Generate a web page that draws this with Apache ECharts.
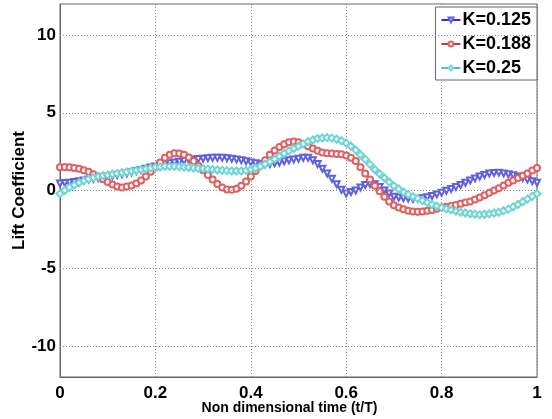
<!DOCTYPE html>
<html>
<head>
<meta charset="utf-8">
<script src="https://cdn.jsdelivr.net/npm/echarts@6/dist/echarts.min.js"></script>
<style>
  html, body { margin: 0; padding: 0; background: #fff; }
  #chart { width: 552px; height: 419px; }
</style>
</head>
<body>
<div id="chart"></div>
<script>
  // time samples t/T (step 0.01)
  const timeValues = [
    0.00, 0.01, 0.02, 0.03, 0.04, 0.05, 0.06, 0.07, 0.08, 0.09,
    0.10, 0.11, 0.12, 0.13, 0.14, 0.15, 0.16, 0.17, 0.18, 0.19,
    0.20, 0.21, 0.22, 0.23, 0.24, 0.25, 0.26, 0.27, 0.28, 0.29,
    0.30, 0.31, 0.32, 0.33, 0.34, 0.35, 0.36, 0.37, 0.38, 0.39,
    0.40, 0.41, 0.42, 0.43, 0.44, 0.45, 0.46, 0.47, 0.48, 0.49,
    0.50, 0.51, 0.52, 0.53, 0.54, 0.55, 0.56, 0.57, 0.58, 0.59,
    0.60, 0.61, 0.62, 0.63, 0.64, 0.65, 0.66, 0.67, 0.68, 0.69,
    0.70, 0.71, 0.72, 0.73, 0.74, 0.75, 0.76, 0.77, 0.78, 0.79,
    0.80, 0.81, 0.82, 0.83, 0.84, 0.85, 0.86, 0.87, 0.88, 0.89,
    0.90, 0.91, 0.92, 0.93, 0.94, 0.95, 0.96, 0.97, 0.98, 0.99, 1.00
  ]
  // K=0.125
  const liftK125 = [
    0.45, 0.48, 0.5, 0.55, 0.6, 0.65, 0.7, 0.75, 0.8, 0.85,
    0.9, 0.95, 1.0, 1.05, 1.1, 1.18, 1.25, 1.32, 1.4, 1.48,
    1.55, 1.62, 1.7, 1.75, 1.8, 1.85, 1.9, 1.95, 2.0, 2.02,
    2.05, 2.08, 2.1, 2.1, 2.1, 2.08, 2.05, 2.0, 1.95, 1.88,
    1.8, 1.75, 1.7, 1.68, 1.7, 1.75, 1.8, 1.88, 1.95, 2.0,
    2.05, 2.1, 2.1, 1.95, 1.7, 1.4, 1.1, 0.75, 0.4, 0.05,
    -0.2, -0.1, 0.0, 0.2, 0.35, 0.42, 0.4, 0.22, 0.0, -0.2,
    -0.4, -0.45, -0.5, -0.52, -0.55, -0.53, -0.5, -0.43, -0.35, -0.25,
    -0.15, -0.02, 0.1, 0.22, 0.35, 0.5, 0.65, 0.78, 0.9, 1.0,
    1.1, 1.13, 1.15, 1.1, 1.05, 0.98, 0.9, 0.8, 0.7, 0.6, 0.5
  ]
  // K=0.188
  const liftK188 = [
    1.5, 1.52, 1.5, 1.45, 1.4, 1.3, 1.2, 1.05, 0.9, 0.72,
    0.55, 0.38, 0.25, 0.2, 0.25, 0.32, 0.45, 0.65, 0.9, 1.2,
    1.5, 1.8, 2.1, 2.3, 2.4, 2.38, 2.3, 2.12, 1.9, 1.6,
    1.3, 1.0, 0.7, 0.42, 0.2, 0.06, 0.05, 0.12, 0.3, 0.58,
    0.9, 1.25, 1.6, 1.95, 2.3, 2.58, 2.8, 2.98, 3.1, 3.15,
    3.1, 3.0, 2.85, 2.7, 2.55, 2.45, 2.4, 2.38, 2.35, 2.33,
    2.25, 2.1, 1.9, 1.5, 1.1, 0.7, 0.3, -0.05, -0.4, -0.7,
    -0.95, -1.1, -1.2, -1.3, -1.35, -1.37, -1.35, -1.3, -1.25, -1.18,
    -1.1, -1.05, -1.0, -0.93, -0.85, -0.78, -0.7, -0.58, -0.45, -0.3,
    -0.15, 0.0, 0.15, 0.32, 0.5, 0.65, 0.8, 0.95, 1.1, 1.28, 1.45
  ]
  // K=0.25
  const liftK25 = [
    -0.2, 0.0, 0.2, 0.35, 0.5, 0.63, 0.75, 0.83, 0.9, 0.95,
    1.0, 1.05, 1.1, 1.15, 1.2, 1.25, 1.3, 1.35, 1.4, 1.45,
    1.5, 1.52, 1.55, 1.55, 1.55, 1.53, 1.5, 1.48, 1.45, 1.42,
    1.4, 1.38, 1.35, 1.32, 1.3, 1.28, 1.25, 1.25, 1.25, 1.28,
    1.35, 1.45, 1.55, 1.7, 1.85, 2.02, 2.2, 2.38, 2.55, 2.7,
    2.85, 3.0, 3.15, 3.25, 3.35, 3.38, 3.4, 3.37, 3.3, 3.2,
    3.05, 2.85, 2.6, 2.3, 2.0, 1.68, 1.35, 1.08, 0.8, 0.55,
    0.3, 0.1, -0.1, -0.25, -0.4, -0.52, -0.65, -0.78, -0.9, -1.0,
    -1.1, -1.18, -1.25, -1.33, -1.4, -1.45, -1.5, -1.53, -1.55, -1.53,
    -1.5, -1.45, -1.4, -1.3, -1.2, -1.05, -0.9, -0.72, -0.55, -0.38, -0.2
  ]
  const yTicks = [-10, -5, 0, 5, 10]

  const pair = (ys) => timeValues.map((t, i) => [t, ys[i]])
  const font = "'Liberation Sans', Arial, sans-serif"
  const dotted = {color: '#8a8a8a', width: 1, type: [1, 2]}

  const chartInstance = echarts.init(document.getElementById('chart'))
  const option = {
    animation: false,
    grid: {
      left: 60, right: 15, top: 4, bottom: 42,
      outerBoundsMode: 'none',
      containLabel: false,
      show: true, borderColor: '#666', borderWidth: 1
    },
    legend: {
      orient: 'vertical',
      right: 15, top: 7,
      backgroundColor: '#fff',
      borderColor: '#666', borderWidth: 1,
      padding: [4, 6, 3, 5],
      itemGap: 6,
      itemWidth: 19, itemHeight: 6,
      textStyle: {fontFamily: font, fontWeight: 'bold', fontSize: 18, color: '#000', padding: [0, 0, 0, -3]},
      data: ['K=0.125', 'K=0.188', 'K=0.25']
    },
    xAxis: {
      type: 'value',
      min: 0, max: 1, interval: 0.2,
      name: 'Non dimensional time (t/T)',
      nameLocation: 'middle',
      nameGap: 24,
      nameMoveOverlap: false,
      nameTextStyle: {fontFamily: font, fontWeight: 'bold', fontSize: 14, color: '#000', padding: [0, 18, 0, 0]},
      axisLine: {onZero: false, lineStyle: {color: '#666'}},
      axisTick: {show: false},
      axisLabel: {
        fontFamily: font, fontWeight: 'bold', fontSize: 17, color: '#000', margin: 8,
        formatter: (v) => String(+v.toFixed(1))
      },
      splitLine: {lineStyle: dotted}
    },
    yAxis: {
      type: 'value',
      min: -12, max: 12, interval: 1,
      name: 'Lift Coefficient',
      nameLocation: 'middle',
      nameGap: 32,
      nameMoveOverlap: false,
      nameTextStyle: {fontFamily: font, fontWeight: 'bold', fontSize: 17, color: '#000'},
      axisLine: {onZero: false, lineStyle: {color: '#666'}},
      axisTick: {show: false},
      axisLabel: {
        fontFamily: font, fontWeight: 'bold', fontSize: 17, color: '#000', margin: 4,
        formatter: (v) => (yTicks.indexOf(v) >= 0 ? String(v) : '')
      },
      splitLine: {show: false}
    },
    series: [
      {
        name: 'K=0.125',
        type: 'line',
        smooth: 0.3,
        data: pair(liftK125),
        symbol: 'emptyTriangle',
        symbolRotate: 180,
        symbolSize: 6,
        lineStyle: {color: '#3434c0', width: 1},
        itemStyle: {color: '#6060dc', borderWidth: 1},
        markLine: {
          silent: true,
          symbol: 'none',
          label: {show: false},
          lineStyle: dotted,
          data: yTicks.map((v) => ({yAxis: v}))
        },
        z: 3
      },
      {
        name: 'K=0.188',
        type: 'line',
        smooth: 0.3,
        data: pair(liftK188),
        symbol: 'emptyCircle',
        symbolSize: 6,
        lineStyle: {color: '#d43434', width: 1},
        itemStyle: {color: '#e06060', borderWidth: 1},
        z: 4
      },
      {
        name: 'K=0.25',
        type: 'line',
        smooth: 0.3,
        data: pair(liftK25),
        symbol: 'emptyDiamond',
        symbolSize: 7,
        lineStyle: {color: '#48c4c4', width: 1},
        itemStyle: {color: '#70d4d4', borderWidth: 1},
        z: 5
      }
    ]
  }
  chartInstance.setOption(option)
</script>
</body>
</html>
